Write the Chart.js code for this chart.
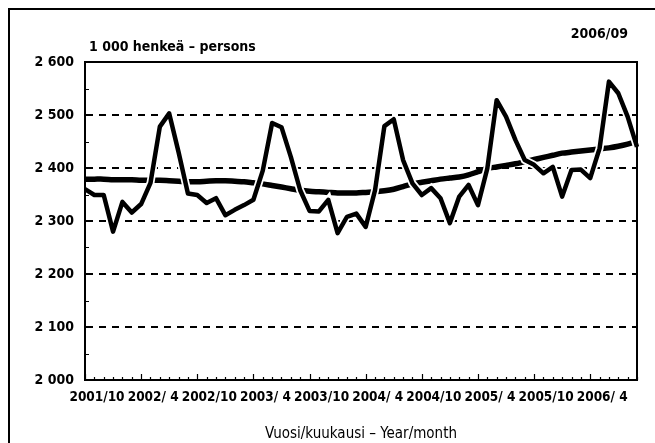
<!DOCTYPE html>
<html><head><meta charset="utf-8">
<script src="https://cdn.jsdelivr.net/npm/chart.js@4.4.0/dist/chart.umd.min.js"></script>
<style>html,body{margin:0;padding:0;background:#fff}#wrap{width:655px;height:443px;position:relative}</style>
</head><body><div id="wrap"><canvas id="c" width="655" height="443"></canvas></div>
<script>
const months = [
 "2001/10","2001/11","2001/12","2002/1","2002/2","2002/3","2002/4","2002/5","2002/6","2002/7","2002/8","2002/9",
 "2002/10","2002/11","2002/12","2003/1","2003/2","2003/3","2003/4","2003/5","2003/6","2003/7","2003/8","2003/9",
 "2003/10","2003/11","2003/12","2004/1","2004/2","2004/3","2004/4","2004/5","2004/6","2004/7","2004/8","2004/9",
 "2004/10","2004/11","2004/12","2005/1","2005/2","2005/3","2005/4","2005/5","2005/6","2005/7","2005/8","2005/9",
 "2005/10","2005/11","2005/12","2006/1","2006/2","2006/3","2006/4","2006/5","2006/6","2006/7","2006/8","2006/9"];
const monthly = [2360,2349,2349,2280,2336,2316,2332,2372,2478,2503,
 2430,2352,2349,2334,2343,2311,2321,2330,2340,2395,
 2485,2477,2421,2358,2319,2318,2340,2277,2308,2314,
 2289,2358,2479,2492,2415,2371,2349,2362,2343,2296,
 2346,2368,2330,2399,2528,2497,2453,2415,2406,2390,
 2402,2346,2396,2397,2381,2437,2563,2541,2497,2440];
const trend = [2379,2379,2379,2378,2378,2378,2377,2377,2377,2376,
 2375,2374,2374,2375,2376,2376,2375,2374,2372,2370,
 2367,2364,2361,2358,2356,2355,2354,2353,2353,2353,
 2354,2355,2357,2360,2365,2370,2373,2376,2379,2381,
 2383,2387,2393,2399,2402,2405,2408,2412,2416,2420,
 2424,2428,2430,2432,2434,2436,2438,2441,2445,2450];
const xTickLabels = ["2001/10","2002/ 4","2002/10","2003/ 4","2003/10","2004/ 4","2004/10","2005/ 4","2005/10","2006/ 4"];
const yTicks = [2000,2100,2200,2300,2400,2500,2600];
const yMinor = [2050,2150,2250,2350,2450,2550];
const unitText = "1 000 henkeä – persons";
const dateText = "2006/09";
const xTitle = "Vuosi/kuukausi – Year/month";

const FONT = "'Liberation Sans Narrow','DejaVu Sans Condensed','Liberation Sans',sans-serif";

const deco = {
  id: 'deco',
  beforeDraw(chart) {
    const ctx = chart.ctx;
    ctx.save(); ctx.fillStyle = '#fff'; ctx.fillRect(0,0,chart.width,chart.height); ctx.restore();
  },
  afterDraw(chart) {
    const {ctx, chartArea: a, scales: {x, y}} = chart;
    ctx.save();
    ctx.strokeStyle = '#000';
    ctx.lineWidth = 2;
    ctx.strokeRect(a.left, a.top, a.right - a.left, a.bottom - a.top);
    ctx.lineWidth = 1.2;
    ctx.beginPath();
    months.forEach((m, i) => {
      const px = Math.round(x.getPixelForValue(i)) + 0.5;
      const len = (i % 6 === 0) ? 6 : 3;
      ctx.moveTo(px, a.bottom); ctx.lineTo(px, a.bottom - len);
    });
    yMinor.forEach(v => {
      const py = Math.round(y.getPixelForValue(v)) + 0.5;
      ctx.moveTo(a.left, py); ctx.lineTo(a.left + 4, py);
    });
    ctx.stroke();
    ctx.lineWidth = 2;
    ctx.beginPath();
    ctx.moveTo(9, chart.height); ctx.lineTo(9, 9); ctx.lineTo(chart.width, 9);
    ctx.stroke();
    ctx.fillStyle = '#000';
    ctx.font = "bold 14px " + FONT;
    ctx.textBaseline = 'alphabetic';
    ctx.textAlign = 'left';
    ctx.fillText(unitText, 89, 51);
    ctx.textAlign = 'right';
    ctx.fillText(dateText, 628, 38);
    ctx.restore();
  }
};

new Chart(document.getElementById('c'), {
  type: 'line',
  data: {
    labels: months,
    datasets: [
      {label: 'trend', data: trend, borderColor: '#000', borderWidth: 5.5, pointRadius: 0, tension: 0.3, order: 3},
      {label: 'gap', data: monthly, borderColor: '#fff', borderWidth: 8, pointRadius: 0, tension: 0, order: 2},
      {label: 'monthly', data: monthly, borderColor: '#000', borderWidth: 4.5, pointRadius: 0, tension: 0, borderJoinStyle: 'round', order: 1}
    ]
  },
  options: {
    responsive: false,
    animation: false,
    devicePixelRatio: 1,
    layout: {padding: {left: 0, right: 18, top: 62, bottom: 0}},
    plugins: {legend: {display: false}, tooltip: {enabled: false}},
    scales: {
      x: {
        offset: false,
        grid: {display: true, drawOnChartArea: false, drawTicks: false},
        border: {display: true, color: '#000', width: 2},
        ticks: {
          autoSkip: false, maxRotation: 0, minRotation: 0, padding: 9, labelOffset: 12,
          color: '#000', font: {family: FONT, size: 13.5, weight: 'bold'},
          callback: (v, i) => (i % 6 === 0 ? xTickLabels[i / 6] : '')
        },
        title: {display: true, text: xTitle, color: '#000', font: {family: FONT, size: 15}, padding: {top: 4, bottom: 0}},
        afterFit: s => { s.height = 63; }
      },
      y: {
        min: 2000, max: 2600,
        afterBuildTicks: s => { s.ticks = yTicks.map(v => ({value: v})); },
        grid: {
          drawTicks: false, lineWidth: 2,
          color: c => (c.tick && (c.tick.value === 2000 || c.tick.value === 2600)) ? 'rgba(0,0,0,0)' : '#000'
        },
        border: {display: true, color: '#000', width: 2, dash: [7, 6]},
        ticks: {
          padding: 11, color: '#000', font: {family: FONT, size: 14, weight: 'bold'},
          callback: v => String(v).replace(/\B(?=(\d{3})+(?!\d))/g, ' ')
        },
        afterFit: s => { s.width = 85; }
      }
    }
  },
  plugins: [deco]
});
</script>
</body></html>
